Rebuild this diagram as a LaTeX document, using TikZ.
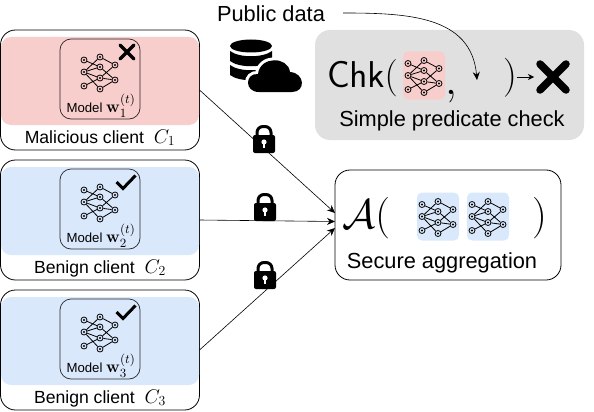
\documentclass[tikz,border=0pt]{standalone}
\usepackage[no-math]{fontspec}
\usepackage{amsmath,amssymb}
\setmainfont{Liberation Sans}
\usetikzlibrary{arrows.meta,positioning}
\definecolor{maliciousred}{HTML}{F8CECC}
\definecolor{benignblue}{HTML}{DAE8FC}
\definecolor{checkgray}{HTML}{E0E0E0}
\newcommand{\formulatext}[2]{\scalebox{#1}{\fontsize{20.74}{24}\selectfont #2}}
\newcommand{\modelw}[1]{\scalebox{1.4}{$\mathbf{w}_{#1}^{(t)}$}}
\begin{document}
\begin{tikzpicture}[
  x=1pt,y=-1pt,
  client/.style={draw,line width=0.8pt,rounded corners=15pt,minimum width=199pt,minimum height=120pt,outer sep=0pt,inner sep=0pt},
  band/.style={rounded corners=10pt,minimum width=198pt,minimum height=88pt,outer sep=0pt,inner sep=0pt},
  modelbox/.style={draw=black!85,line width=0.7pt,rounded corners=11pt,minimum width=80pt,minimum height=80pt,outer sep=0pt,inner sep=0pt},
  tile/.style={rounded corners=5pt,minimum width=42pt,minimum height=48pt,outer sep=0pt,inner sep=0pt},
  modellabel/.style={anchor=base,inner sep=0pt,font=\fontsize{13.2}{14}\selectfont},
  clientlabel/.style={anchor=base,inner sep=0pt,font=\fontsize{17.6}{20}\selectfont},
  biglabel/.style={anchor=base,inner sep=0pt,font=\fontsize{21.8}{24}\selectfont},
  formula/.style={anchor=base,inner sep=0pt},
  netnode/.style={draw,circle,minimum size=6pt,inner sep=0pt,line width=0.8pt},
  arrow/.style={-{Stealth[length=8pt,width=7pt]},line width=0.6pt},
  netw/.pic={
    \node[netnode] (-a) at (-16,-12) {};
    \node[netnode] (-b) at (0,-15) {};
    \node[netnode] (-c) at (-16,0) {};
    \node[netnode] (-d) at (0,-5) {};
    \node[netnode] (-e) at (15,-7) {};
    \node[netnode] (-f) at (0,6) {};
    \node[netnode] (-g) at (15,8) {};
    \node[netnode] (-h) at (-16,14) {};
    \node[netnode] (-i) at (0,17) {};
    \foreach \p in {a,b,c,d,e,f,g,h,i} \fill (-\p) circle (1.1);
    \draw[line width=0.8pt] (-a)--(-d) (-b)--(-c) (-c)--(-d) (-c)--(-f) (-c)--(-i) (-h)--(-f)
      (-b)--(-e) (-d)--(-g) (-f)--(-e) (-f)--(-g) (-i)--(-g);
  },
  lockicon/.pic={
    \draw[line width=3pt,rounded corners=6pt] (-7,-3)--(-7,-12.5)--(7,-12.5)--(7,-3);
    \fill[rounded corners=2pt] (-11,-4) rectangle (11,14);
    \fill[white] (0,3) circle (2.6);
    \fill[white] (-1.2,3) rectangle (1.2,9);
  },
  smallcross/.pic={
    \draw[line width=3.5pt,line cap=round] (-7,-7)--(7,7) (-7,7)--(7,-7);
  },
  bigcrossmark/.pic={
    \draw[line width=7.5pt,line cap=round] (-13,-13)--(13,13) (-13,13)--(13,-13);
  },
  tickmark/.pic={
    \draw[line width=3pt] (-9.5,-0.5)--(-3,6)--(9.5,-7);
  }
]
\useasboundingbox (0,0) rectangle (594,412);
\node[client] (c1) at (100,90) {};
\node[client,below=10pt of c1] (c2) {};
\node[client,below=10pt of c2] (c3) {};
\node[band,fill=maliciousred,below=7pt of c1.north] (band1) {};
\node[band,fill=benignblue,below=7pt of c2.north] (band2) {};
\node[band,fill=benignblue,below=7pt of c3.north] (band3) {};
\node[modelbox,below=9pt of c1.north] (model1) {};
\node[modelbox,below=9pt of c2.north] (model2) {};
\node[modelbox,below=9pt of c3.north] (model3) {};
\pic (net1) at ([yshift=7pt]model1.center) {netw};
\pic (net2) at ([yshift=7pt]model2.center) {netw};
\pic (net3) at ([yshift=7pt]model3.center) {netw};
\node[modellabel] (label1) at ([xshift=1pt,yshift=7pt]model1.south) {Model \modelw{1}};
\node[modellabel] (label2) at ([xshift=1pt,yshift=7pt]model2.south) {Model \modelw{2}};
\node[modellabel] (label3) at ([xshift=1pt,yshift=7pt]model3.south) {Model \modelw{3}};
\pic at ([xshift=27pt,yshift=27pt]model1.center) {smallcross};
\pic at ([xshift=26pt,yshift=26.5pt]model2.center) {tickmark};
\pic at ([xshift=26pt,yshift=26.5pt]model3.center) {tickmark};
\node[clientlabel] (name1) at ([yshift=7pt]c1.south) {Malicious client\hspace{5pt} \scalebox{1.15}{$C_1$}};
\node[clientlabel] (name2) at ([yshift=7pt]c2.south) {Benign client\hspace{5pt} \scalebox{1.15}{$C_2$}};
\node[clientlabel] (name3) at ([yshift=7pt]c3.south) {Benign client\hspace{5pt} \scalebox{1.15}{$C_3$}};
\node[biglabel] (pubdata) at (271,22) {Public data};
\fill (251,46) ellipse (21 and 6.5);
\fill (230,51) .. controls (239,58) and (263,58) .. (272,51) -- (272,61) .. controls (263,68) and (239,68) .. (230,61) -- cycle;
\fill (230,65) .. controls (239,72) and (263,72) .. (272,65) -- (272,75) .. controls (263,82) and (239,82) .. (230,75) -- cycle;
\fill[preaction={draw=white,line width=6pt}] (259,92) .. controls (244,92) and (245,73) .. (258,74) .. controls (260,56) and (288,56) .. (290,72) .. controls (305,73) and (306,92) .. (292,92) -- cycle;
\node[fill=checkgray,rounded corners=15pt,minimum width=269pt,minimum height=110pt,inner sep=0pt,outer sep=0pt] (chkbox) at (449.5,85) {};
\node[tile,fill=maliciousred] (chktile) at (424,75.5) {};
\pic (chknet) at (chktile.center) {netw};
\node[formula,anchor=base east] (chk) at (398,87) {\formulatext{1.8}{$\mathsf{Chk}($}};
\node[formula,anchor=base west] (comma) at (445,94) {\formulatext{2.1}{$,$}};
\node[formula,anchor=base west] (chkclose) at (503,87) {\formulatext{1.88}{$)$}};
\pic (bigcross) at (553,77) {bigcrossmark};
\coordinate (bigcrossin) at (534,77);
\draw[-{Stealth[length=6pt,width=6pt]},line width=0.6pt] (chkclose.east |- bigcrossin) -- (bigcrossin);
\coordinate (pubout) at (343,13);
\coordinate (pubin) at (477,80);
\draw[arrow] (pubout) to[out=0,in=95,looseness=1.1] (pubin);
\node[biglabel] (chktext) at (452,126) {Simple predicate check};
\node[draw,line width=0.8pt,rounded corners=15pt,minimum width=226pt,minimum height=110pt,inner sep=0pt,outer sep=0pt] (agg) at (448,225) {};
\node[tile,fill=benignblue] (tile1) at (438,216.5) {};
\node[tile,fill=benignblue] (tile2) at (488,216.5) {};
\pic (aggnet1) at (tile1.center) {netw};
\pic (aggnet2) at (tile2.center) {netw};
\node[formula,anchor=base west] (aggopen) at (342,228) {\formulatext{2}{$\mathcal{A}($}};
\node[formula,anchor=base west] (aggclose) at (532,228) {\formulatext{2}{$)$}};
\node[biglabel] (aggtext) at (442,268) {Secure aggregation};
\draw[arrow] (c1.east) -- ([yshift=12pt]agg.west);
\draw[arrow] (c2.east) -- ([yshift=3.5pt]agg.west);
\draw[arrow] (c3.east) -- ([yshift=-3pt]agg.west);
\pic at (264,139) {lockicon};
\pic at (265,207) {lockicon};
\pic at (265,275) {lockicon};
\end{tikzpicture}
\end{document}
